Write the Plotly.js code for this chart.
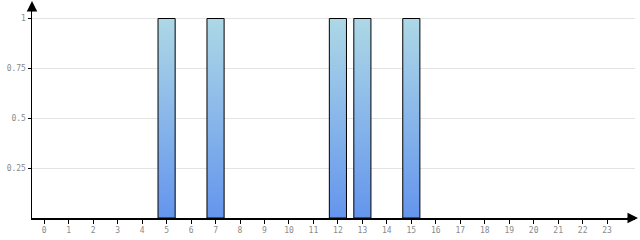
<!DOCTYPE html>
<html>
<head>
<meta charset="utf-8">
<script src="https://cdn.plot.ly/plotly-3.0.1.min.js"></script>
<style>html,body{margin:0;padding:0;background:#fff;}#chart{width:640px;height:240px;}</style>
</head>
<body>
<div id="chart"></div>
<script>
const categories = [0,1,2,3,4,5,6,7,8,9,10,11,12,13,14,15,16,17,18,19,20,21,22,23];
const values = [0,0,0,0,0,1,0,1,0,0,0,0,1,1,0,1,0,0,0,0,0,0,0,0];
const yTickVals = [0.25,0.5,0.75,1];
const yTickText = ['0.25','0.5','0.75','1'];

const tickFont = {family: 'DejaVu Sans Mono, monospace', size: 8, color: '#8a8a8a'};

const trace = {
  type: 'bar',
  x: categories,
  y: values,
  width: 0.7,
  marker: {color: '#8fb8e9', line: {color: '#000', width: values.map(v => v > 0 ? 1 : 0)}},
  hoverinfo: 'none'
};

const layout = {
  width: 640, height: 240,
  margin: {l: 32, r: 5, t: 5, b: 22},
  paper_bgcolor: '#fff', plot_bgcolor: '#fff',
  showlegend: false,
  xaxis: {
    range: [-0.5, 24.14],
    tickvals: categories, ticktext: categories.map(String),
    showgrid: false, zeroline: false,
    showline: true, linecolor: '#000', linewidth: 1.5,
    ticks: 'outside', ticklen: 4, tickcolor: '#000', tickwidth: 1,
    tickfont: tickFont
  },
  yaxis: {
    range: [0, 1.0677],
    tickvals: yTickVals, ticktext: yTickText,
    showgrid: true, gridcolor: '#e3e3e3', gridwidth: 1,
    zeroline: false,
    showline: true, linecolor: '#000', linewidth: 1.5,
    ticks: 'outside', ticklen: 3, tickcolor: '#000', tickwidth: 1,
    tickfont: tickFont
  },
  annotations: [
    {xref: 'paper', yref: 'paper', x: 0, y: 1.02, ax: 0, ay: 12, text: '',
     showarrow: true, arrowhead: 2, arrowsize: 1.4, arrowwidth: 1.5, arrowcolor: '#000'},
    {xref: 'paper', yref: 'paper', x: 1.005, y: 0, ax: -12, ay: 0, text: '',
     showarrow: true, arrowhead: 2, arrowsize: 1.4, arrowwidth: 1.5, arrowcolor: '#000'}
  ]
};

Plotly.newPlot('chart', [trace], layout, {displayModeBar: false, staticPlot: true}).then(function(gd){
  const svg = gd.querySelector('svg.main-svg');
  const ns = 'http://www.w3.org/2000/svg';
  let defs = svg.querySelector('defs');
  if (!defs) { defs = document.createElementNS(ns, 'defs'); svg.insertBefore(defs, svg.firstChild); }
  const grad = document.createElementNS(ns, 'linearGradient');
  grad.setAttribute('id', 'barGrad');
  grad.setAttribute('x1', '0'); grad.setAttribute('y1', '0');
  grad.setAttribute('x2', '0'); grad.setAttribute('y2', '1');
  const s1 = document.createElementNS(ns, 'stop');
  s1.setAttribute('offset', '0'); s1.setAttribute('stop-color', '#add8e6');
  const s2 = document.createElementNS(ns, 'stop');
  s2.setAttribute('offset', '1'); s2.setAttribute('stop-color', '#6495ed');
  grad.appendChild(s1); grad.appendChild(s2);
  defs.appendChild(grad);
  gd.querySelectorAll('.bars .point path').forEach(function(p){
    p.style.fill = 'url(#barGrad)';
  });
});
</script>
</body>
</html>
